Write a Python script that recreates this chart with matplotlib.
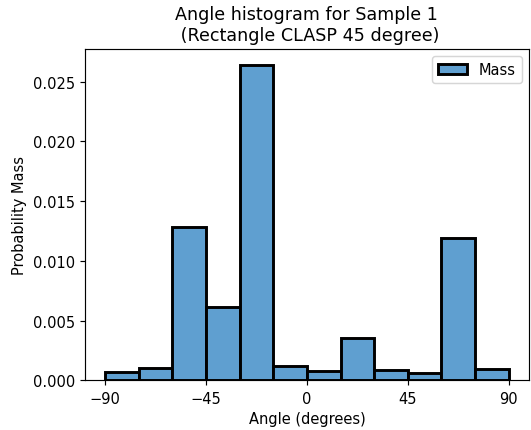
import numpy as np
import matplotlib
matplotlib.use("Agg")
import matplotlib.pyplot as plt

# bin edges (degrees) and probability mass per bin
bin_edges = [-90, -75, -60, -45, -30, -15, 0, 15, 30, 45, 60, 75, 90]
mass = [0.0007, 0.0010, 0.0128, 0.0061, 0.0264, 0.00117,
        0.00075, 0.00354, 0.00086, 0.00059, 0.0119, 0.00092]
xticks = [-90, -45, 0, 45, 90]

DPI = 105
fig = plt.figure(figsize=(531 / DPI, 431 / DPI), dpi=DPI)
ax = fig.add_axes([0.160, 0.1153, 0.836, 0.7687])

edges = np.array(bin_edges)
ax.bar(edges[:-1], mass, width=np.diff(edges), align='edge',
       color='#5f9fd0', edgecolor='black', linewidth=2, label='Mass')

ax.set_xticks(xticks)
ax.set_xlabel('Angle (degrees)')
ax.set_ylabel('Probability Mass')
ax.set_title('Angle histogram for Sample 1\n (Rectangle CLASP 45 degree)')
ax.legend(loc='upper right')

fig.savefig('out.png', dpi=DPI)
